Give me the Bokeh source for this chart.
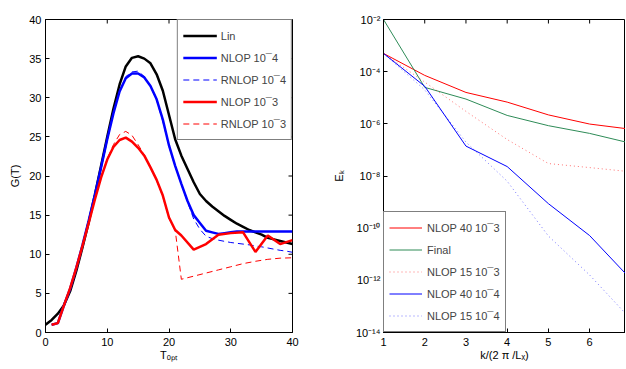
import math
from bokeh.plotting import figure
from bokeh.layouts import row
from bokeh.models import FixedTicker, CustomJSTickFormatter, Range1d
from bokeh.embed import file_html
from bokeh.resources import INLINE

FONT = "Liberation Sans"
FS = "11px"

# ---------------- left panel data: G(T) vs T_opt ----------------
t_lin = list(range(0, 41))
g_lin = [1.0, 1.6, 2.4, 3.5, 5.3, 7.9, 10.9, 14.1, 17.6, 21.3,
         25.0, 28.6, 31.7, 34.0, 35.1, 35.3, 35.0, 34.4, 33.0, 30.9,
         27.8, 24.7, 22.6, 20.9, 19.2, 17.7, 16.8, 16.1, 15.5, 14.9,
         14.4, 13.9, 13.5, 13.1, 12.8, 12.5, 12.1, 11.9, 11.7, 11.5, 11.3]

t_nl4 = list(range(1, 41))
g_nl4 = [1.0, 1.2, 3.5, 5.6, 8.3, 11.2, 14.3, 17.6, 21.1, 24.7,
         28.0, 30.8, 32.5, 33.1, 33.1, 32.6, 31.5, 29.8, 27.2, 23.9,
         21.3, 19.0, 16.8, 15.0, 14.0, 13.0, 12.8, 12.6, 12.7, 12.8,
         12.9, 12.9, 12.9, 12.9, 12.9, 12.9, 12.9, 12.9, 12.9, 12.9]

t_rnl4 = list(range(1, 41))
g_rnl4 = [1.0, 1.2, 3.5, 5.6, 8.3, 11.2, 14.3, 17.6, 21.1, 24.7,
          28.0, 30.9, 32.7, 33.3, 33.4, 32.7, 31.5, 29.7, 27.0, 23.8,
          21.2, 18.9, 16.7, 14.5, 13.2, 12.3, 12.0, 11.8, 11.65, 11.5,
          11.4, 11.3, 11.2, 11.05, 10.95, 10.8, 10.65, 10.5, 10.4, 10.25]

t_nl3 = [1, 2, 3, 4, 5, 6, 7, 8, 9, 10, 11, 12, 13, 14, 15, 16, 17, 18, 19,
         20, 21, 22, 24, 26, 28, 30, 32, 34, 36, 38, 40]
g_nl3 = [1.0, 1.2, 3.5, 5.7, 8.3, 11.1, 14.0, 17.0, 19.8, 22.1, 23.7, 24.6,
         24.9, 24.4, 23.6, 22.6, 21.1, 19.5, 17.5, 14.7, 13.1, 12.4,
         10.6, 11.3, 12.5, 12.7, 12.8, 10.3, 12.4, 11.3, 11.8]

t_rnl3 = [1, 2, 3, 4, 5, 6, 7, 8, 9, 10, 11, 12, 13, 14, 15, 16, 17, 18, 19,
          20, 21, 22, 24, 26, 28, 30, 32, 34, 36, 38, 40]
g_rnl3 = [1.0, 1.2, 3.5, 5.7, 8.3, 11.1, 14.0, 17.0, 19.9, 22.2, 24.0, 25.3,
          25.7, 25.2, 24.0, 22.7, 21.1, 19.4, 17.4, 14.6, 13.1, 6.8,
          7.2, 7.6, 8.0, 8.4, 8.8, 9.1, 9.35, 9.5, 9.55]

left_xticks = [0, 10, 20, 30, 40]
left_yticks = [0, 5, 10, 15, 20, 25, 30, 35, 40]

# ---------------- right panel data: E_k vs k ----------------
k = [1, 2, 3, 4, 5, 6, 7]
e_nl40_3 = [5.0e-4, 7.2e-5, 1.6e-5, 6.8e-6, 2.2e-6, 9.8e-7, 6.2e-7]
e_final = [1.0e-2, 2.5e-5, 8.9e-6, 2.1e-6, 8.5e-7, 4.3e-7, 1.8e-7]
e_nl15_3 = [5.0e-4, 4.0e-5, 3.0e-6, 2.5e-7, 3.0e-8, 2.1e-8, 1.45e-8]
e_nl40_4 = [5.0e-4, 2.75e-5, 1.4e-7, 2.3e-8, 8.7e-10, 5.2e-11, 1.1e-12]
e_nl15_4 = [5.0e-4, 2.0e-5, 2.0e-7, 6.3e-9, 5.0e-11, 1.6e-12, 3.2e-14]

right_xticks = [1, 2, 3, 4, 5, 6]
right_yticks = [1e-14, 1e-12, 1e-10, 1e-8, 1e-6, 1e-4, 1e-2]

TICK = 4


def style_axis(ax, standoff=4, label_standoff=0):
    ax.major_tick_in = TICK
    ax.major_tick_out = 0
    ax.minor_tick_in = 0
    ax.minor_tick_out = 0
    ax.axis_line_color = "black"
    ax.major_tick_line_color = "black"
    ax.major_label_text_font = FONT
    ax.major_label_text_font_size = FS
    ax.major_label_text_color = "black"
    ax.major_label_standoff = standoff
    ax.axis_label_text_font = FONT
    ax.axis_label_text_font_size = FS
    ax.axis_label_text_font_style = "normal"
    ax.axis_label_text_color = "black"
    ax.axis_label_standoff = label_standoff


def style_legend(lg, location, glyph_width, standoff):
    lg.location = location
    lg.margin = 0
    lg.padding = 5
    lg.spacing = 1
    lg.glyph_width = glyph_width
    lg.glyph_height = 21
    lg.label_standoff = standoff
    lg.label_text_font = FONT
    lg.label_text_font_size = FS
    lg.border_line_color = "black"
    lg.border_line_width = 1
    lg.background_fill_alpha = 1.0


# ---------------- left figure ----------------
p1 = figure(width=320, height=366, output_backend="svg", toolbar_location=None,
            x_range=Range1d(0, 40), y_range=Range1d(0, 40),
            min_border_left=45, min_border_right=28, min_border_top=19,
            min_border_bottom=34)
p1.grid.visible = False
p1.outline_line_color = "black"
p1.background_fill_color = "white"
p1.border_fill_color = "white"

# inner ticks on the top and right edges (MATLAB box style)
p1.ray(x=left_xticks, y=40, length=TICK, length_units="screen",
       angle=-math.pi / 2, color="black", line_width=1)
p1.ray(x=40, y=left_yticks, length=TICK, length_units="screen",
       angle=math.pi, color="black", line_width=1)

p1.line(t_lin, g_lin, color="black", line_width=2.5, legend_label="Lin")
p1.line(t_nl4, g_nl4, color="#0000ff", line_width=2.5, legend_label="NLOP 10¯4")
p1.line(t_rnl4, g_rnl4, color="#0000ff", line_width=1, line_dash="6 4",
        legend_label="RNLOP 10¯4")
p1.line(t_nl3, g_nl3, color="#ff0000", line_width=2.5, legend_label="NLOP 10¯3")
p1.line(t_rnl3, g_rnl3, color="#ff0000", line_width=1, line_dash="6 4",
        legend_label="RNLOP 10¯3")

p1.xaxis.ticker = FixedTicker(ticks=left_xticks)
p1.yaxis.ticker = FixedTicker(ticks=left_yticks)
p1.xaxis.axis_label = "Tₒₚₜ"
p1.yaxis.axis_label = "G(T)"
for ax in p1.xaxis:
    style_axis(ax, standoff=5, label_standoff=0)
for ax in p1.yaxis:
    style_axis(ax, standoff=4, label_standoff=5)

style_legend(p1.legend[0], "top_right", 34, 4)

# ---------------- right figure ----------------
p2 = figure(width=305, height=366, output_backend="svg", toolbar_location=None,
            x_range=Range1d(1, 6.87), y_range=Range1d(1e-14, 1e-2),
            y_axis_type="log",
            min_border_left=63, min_border_right=0, min_border_top=19,
            min_border_bottom=34)
p2.grid.visible = False
p2.outline_line_color = "black"
p2.background_fill_color = "white"
p2.border_fill_color = "white"

p2.ray(x=right_xticks, y=1e-2, length=TICK, length_units="screen",
       angle=-math.pi / 2, color="black", line_width=1)

p2.line(k, e_nl40_3, color="#ff0000", line_width=1, legend_label="NLOP 40 10¯3")
p2.line(k, e_final, color="#2e8b57", line_width=1, legend_label="Final")
p2.line(k, e_nl15_3, color="#ff0000", line_alpha=0.55, line_width=1,
        line_dash="1 3", legend_label="NLOP 15 10¯3")
p2.line(k, e_nl40_4, color="#0000ff", line_width=1, legend_label="NLOP 40 10¯4")
p2.line(k, e_nl15_4, color="#0000ff", line_alpha=0.55, line_width=1,
        line_dash="1 3", legend_label="NLOP 15 10¯4")

sup_code = """
const sup = {"0":"\u2070","1":"\u00b9","2":"\u00b2","3":"\u00b3","4":"\u2074",
             "5":"\u2075","6":"\u2076","7":"\u2077","8":"\u2078","9":"\u2079","-":"\u207b"};
const e = Math.round(Math.log10(tick));
return "10" + String(e).split("").map(c => sup[c]).join("");
"""
p2.xaxis.ticker = FixedTicker(ticks=right_xticks)
p2.yaxis.ticker = FixedTicker(ticks=right_yticks)
p2.yaxis.formatter = CustomJSTickFormatter(code=sup_code)
p2.xaxis.axis_label = "k/(2 π /Lₓ)"
p2.yaxis.axis_label = "Eₖ"
for ax in p2.xaxis:
    style_axis(ax, standoff=5, label_standoff=0)
for ax in p2.yaxis:
    style_axis(ax, standoff=3, label_standoff=8)

style_legend(p2.legend[0], "bottom_left", 33, 5)

layout = row(p1, p2)
open("out.html", "w").write(file_html(layout, INLINE))
